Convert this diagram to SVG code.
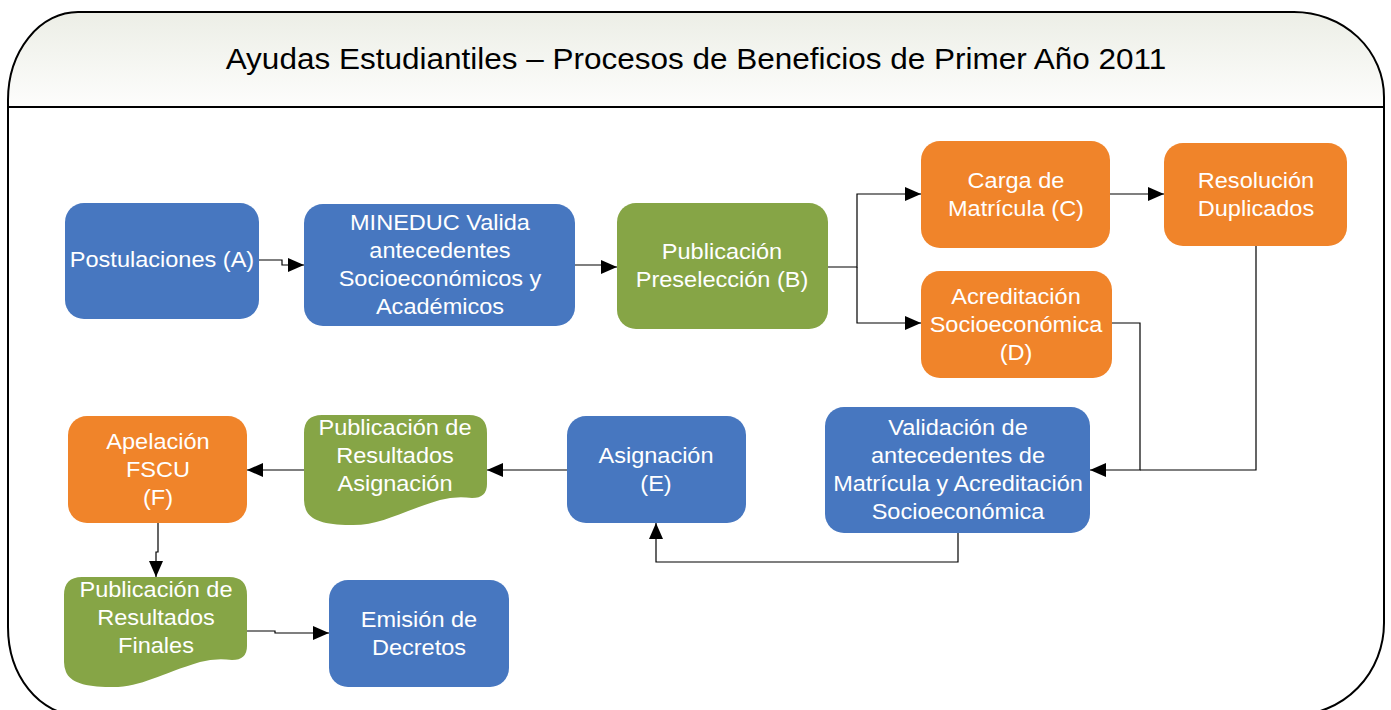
<svg xmlns="http://www.w3.org/2000/svg" xmlns:xlink="http://www.w3.org/1999/xlink" width="1391" height="710" viewBox="0 0 1391 710">
<style>
.blue{fill:#4777C0}
.green{fill:#86A546}
.orange{fill:#F0842A}
.lbl{font-family:"Liberation Sans",Arial,sans-serif;font-size:22px;fill:#fff;text-anchor:middle;transform-box:fill-box;transform-origin:center;transform:scaleX(1.07)}
.title{font-family:"Liberation Sans",Arial,sans-serif;font-size:30px;fill:#000;text-anchor:middle;transform-box:fill-box;transform-origin:center;transform:scaleX(1.05)}
.conn{fill:none;stroke:#000;stroke-width:1.2}
</style>
<defs>
<linearGradient id="hdr" x1="0" y1="0" x2="0" y2="1">
<stop offset="0" stop-color="#ECEEE6"/>
<stop offset="1" stop-color="#FDFDFC"/>
</linearGradient>
<marker id="arr" viewBox="0 0 16 14" refX="16" refY="7" markerWidth="16" markerHeight="14" markerUnits="userSpaceOnUse" orient="auto">
<path d="M0,0 L16,7 L0,14 Z" fill="#000"/>
</marker>
<path id="doc" d="M0,18 Q0,0 18,0 H165 Q183,0 183,18 V69 Q183,83 168,83 Q151,81 136,85 C96,97 76,111 46,110 C21,110 6,105 2,95 Q0,90 0,85 Z"/>
</defs>

<g id="frame">
<path d="M8,100 A70,88 0 0 1 78,12 H1294 A90,85 0 0 1 1384,97 V107 H8 Z" fill="url(#hdr)"/>
<path d="M8,100 A70,88 0 0 1 78,12 H1294 A90,85 0 0 1 1384,97 V623 A90,92 0 0 1 1294,715 H78 A70,88 0 0 1 8,627 Z" fill="none" stroke="#000" stroke-width="2"/>
<line x1="8" y1="107" x2="1384" y2="107" stroke="#000" stroke-width="2"/>
<text class="title" x="696" y="69">Ayudas Estudiantiles – Procesos de Beneficios de Primer Año 2011</text>
</g>

<g id="connectors">
<path class="conn" d="M259,260 H282 V265 H304" marker-end="url(#arr)"/>
<path class="conn" d="M575,265 H602 V267 H617" marker-end="url(#arr)"/>
<path class="conn" d="M828,267 H857 V194 H921" marker-end="url(#arr)"/>
<path class="conn" d="M857,267 V323 H921" marker-end="url(#arr)"/>
<path class="conn" d="M1110,194 H1164" marker-end="url(#arr)"/>
<path class="conn" d="M1112,323 H1140 V470 H1090" marker-end="url(#arr)"/>
<path class="conn" d="M1256,245 V470 H1140"/>
<path class="conn" d="M958,533 V562 H656 V523" marker-end="url(#arr)"/>
<path class="conn" d="M567,470 H487" marker-end="url(#arr)"/>
<path class="conn" d="M304,470 H247" marker-end="url(#arr)"/>
<path class="conn" d="M158,523 V552 H156 V577" marker-end="url(#arr)"/>
<path class="conn" d="M247,631 H275 V633 H329" marker-end="url(#arr)"/>
</g>

<g id="postulaciones">
<rect class="blue" x="65" y="203" width="194" height="116" rx="19"/>
<text class="lbl" x="162" y="267">Postulaciones (A)</text>
</g>
<g id="mineduc">
<rect class="blue" x="304" y="204" width="271" height="122" rx="19"/>
<text class="lbl" x="440" y="230">MINEDUC Valida</text>
<text class="lbl" x="440" y="258">antecedentes</text>
<text class="lbl" x="440" y="286">Socioeconómicos y</text>
<text class="lbl" x="440" y="314">Académicos</text>
</g>
<g id="preseleccion">
<rect class="green" x="617" y="203" width="211" height="126" rx="19"/>
<text class="lbl" x="722" y="259">Publicación</text>
<text class="lbl" x="722" y="287">Preselección (B)</text>
</g>
<g id="carga">
<rect class="orange" x="921" y="141" width="189" height="107" rx="19"/>
<text class="lbl" x="1016" y="188">Carga de</text>
<text class="lbl" x="1016" y="216">Matrícula (C)</text>
</g>
<g id="resolucion">
<rect class="orange" x="1164" y="143" width="183" height="103" rx="19"/>
<text class="lbl" x="1256" y="188">Resolución</text>
<text class="lbl" x="1256" y="216">Duplicados</text>
</g>
<g id="acreditacion">
<rect class="orange" x="921" y="271" width="191" height="107" rx="19"/>
<text class="lbl" x="1016" y="304">Acreditación</text>
<text class="lbl" x="1016" y="332">Socioeconómica</text>
<text class="lbl" x="1016" y="360">(D)</text>
</g>
<g id="validacion">
<rect class="blue" x="825" y="407" width="265" height="126" rx="19"/>
<text class="lbl" x="958" y="435">Validación de</text>
<text class="lbl" x="958" y="463">antecedentes de</text>
<text class="lbl" x="958" y="491">Matrícula y Acreditación</text>
<text class="lbl" x="958" y="519">Socioeconómica</text>
</g>
<g id="asignacion">
<rect class="blue" x="567" y="416" width="179" height="107" rx="19"/>
<text class="lbl" x="656" y="463">Asignación</text>
<text class="lbl" x="656" y="491">(E)</text>
</g>
<g id="pub-asignacion">
<use xlink:href="#doc" href="#doc" class="green" x="304" y="415"/>
<text class="lbl" x="395" y="435">Publicación de</text>
<text class="lbl" x="395" y="463">Resultados</text>
<text class="lbl" x="395" y="491">Asignación</text>
</g>
<g id="apelacion">
<rect class="orange" x="68" y="416" width="179" height="107" rx="19"/>
<text class="lbl" x="158" y="449">Apelación</text>
<text class="lbl" x="158" y="477">FSCU</text>
<text class="lbl" x="158" y="505">(F)</text>
</g>
<g id="pub-finales">
<use xlink:href="#doc" href="#doc" class="green" x="64" y="577"/>
<text class="lbl" x="156" y="597">Publicación de</text>
<text class="lbl" x="156" y="625">Resultados</text>
<text class="lbl" x="156" y="653">Finales</text>
</g>
<g id="emision">
<rect class="blue" x="329" y="580" width="180" height="107" rx="19"/>
<text class="lbl" x="419" y="627">Emisión de</text>
<text class="lbl" x="419" y="655">Decretos</text>
</g>
</svg>
